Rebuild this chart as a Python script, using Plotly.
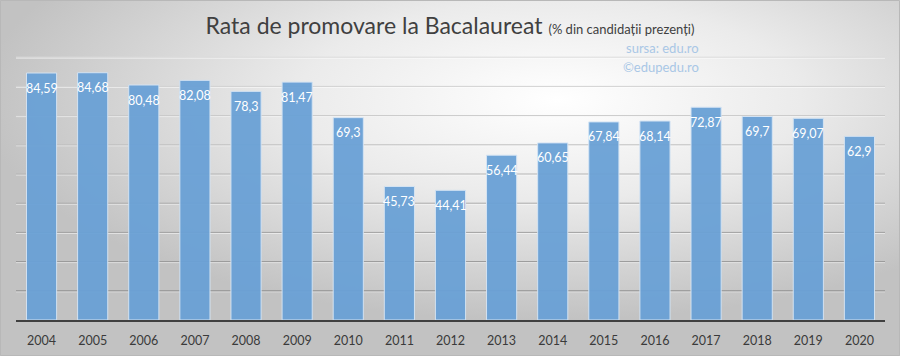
import base64
import plotly.graph_objects as go

years = ["2004", "2005", "2006", "2007", "2008", "2009", "2010", "2011", "2012",
         "2013", "2014", "2015", "2016", "2017", "2018", "2019", "2020"]
rates = [84.59, 84.68, 80.48, 82.08, 78.3, 81.47, 69.3, 45.73, 44.41,
         56.44, 60.65, 67.84, 68.14, 72.87, 69.7, 69.07, 62.9]
labels = [str(v).replace(".", ",") for v in rates]
grid_levels = [10, 20, 30, 40, 50, 60, 70, 80, 90]

W, H = 900, 356
ML, MR, MT, MB = 16, 15, 28, 36
PW, PH = W - ML - MR, H - MT - MB

svg = f"""<svg xmlns='http://www.w3.org/2000/svg' width='{W}' height='{H}' viewBox='0 0 {W} {H}' preserveAspectRatio='none'>
<defs><radialGradient id='g' cx='0.6' cy='0.28' r='0.62' fx='0.62' fy='0.28'>
<stop offset='0' stop-color='#ffffff'/><stop offset='0.45' stop-color='#ebebeb'/><stop offset='1' stop-color='#c2c2c2'/>
</radialGradient></defs>
<rect width='{W}' height='{H}' fill='url(#g)'/></svg>"""
src = "data:image/svg+xml;base64," + base64.b64encode(svg.encode()).decode()


def grid_color(level):
    # faint near the top, darker toward the bottom
    t = (level - 10) / 80.0
    c = int(round(0x8e + (0xdc - 0x8e) * t))
    return f"rgb({c},{c},{c})"


shapes = [dict(type="rect", xref="paper", yref="paper",
               x0=-ML / PW + 0.5 / PW, x1=1 + (MR - 0.5) / PW,
               y0=-(MB - 0.5) / PH, y1=1 + (MT - 0.5) / PH,
               line=dict(color="#b8b8b8", width=1), layer="below")]
for lv in grid_levels:
    shapes.append(dict(type="line", xref="paper", yref="y", x0=0, x1=1,
                       y0=lv - 0.35, y1=lv - 0.35,
                       line=dict(color="rgba(255,255,255,0.55)", width=1), layer="below"))
    shapes.append(dict(type="line", xref="paper", yref="y", x0=0, x1=1,
                       y0=lv, y1=lv,
                       line=dict(color=grid_color(lv), width=1), layer="below"))

annotations = [
    dict(text="sursa: edu.ro", xref="paper", yref="paper",
         x=(701 - ML) / PW, y=(320 - 48) / PH, xanchor="right", yanchor="middle",
         showarrow=False, font=dict(family="Lato", size=13, color="#a9c7e6")),
    dict(text="©edupedu.ro", xref="paper", yref="paper",
         x=(701 - ML) / PW, y=(320 - 67) / PH, xanchor="right", yanchor="middle",
         showarrow=False, font=dict(family="Lato", size=13, color="#a9c7e6")),
]
# value labels: one per category (category index on the x axis), just below the bar top
for i, (v, lab) in enumerate(zip(rates, labels)):
    annotations.append(dict(x=i, y=v, xref="x", yref="y", text=lab,
                            showarrow=False, yanchor="middle", yshift=-15,
                            font=dict(family="Lato", size=12.5, color="white")))

fig = go.Figure()
fig.add_trace(go.Bar(
    x=years, y=rates,
    marker=dict(color="#6aa1d6", opacity=0.95, line=dict(color="#d4e4f4", width=1)),
    hoverinfo="skip",
))

fig.update_layout(
    width=W, height=H,
    margin=dict(l=ML, r=MR, t=MT, b=MB, autoexpand=False),
    paper_bgcolor="#d8d8d8", plot_bgcolor="rgba(0,0,0,0)",
    bargap=0.41, showlegend=False,
    title=dict(
        text="Rata de promovare la Bacalaureat <span style='font-size:13px'>(% din candidații prezenți)</span>",
        x=0.5, xanchor="center", y=1 - 26 / H, yanchor="middle",
        font=dict(family="Lato", size=23, color="#404040"),
    ),
    images=[dict(source=src, xref="paper", yref="paper",
                 x=-ML / PW, y=1 + MT / PH, sizex=W / PW, sizey=H / PH,
                 xanchor="left", yanchor="top", sizing="stretch", layer="below")],
    shapes=shapes,
    annotations=annotations,
)

fig.update_xaxes(
    type="category", categoryorder="array", categoryarray=years,
    range=[-0.5, len(years) - 0.5],
    showline=True, linecolor="#404040", linewidth=2,
    ticks="", ticklabelstandoff=8, automargin=False,
    tickfont=dict(family="Lato", size=12.5, color="#3a3a3a"),
    showgrid=False,
)
fig.update_yaxes(
    range=[0, 100], showticklabels=False, automargin=False,
    showgrid=False, zeroline=False,
)

fig.write_html("out.html", config={"displayModeBar": False},
               post_script="document.body.style.margin='0';")
